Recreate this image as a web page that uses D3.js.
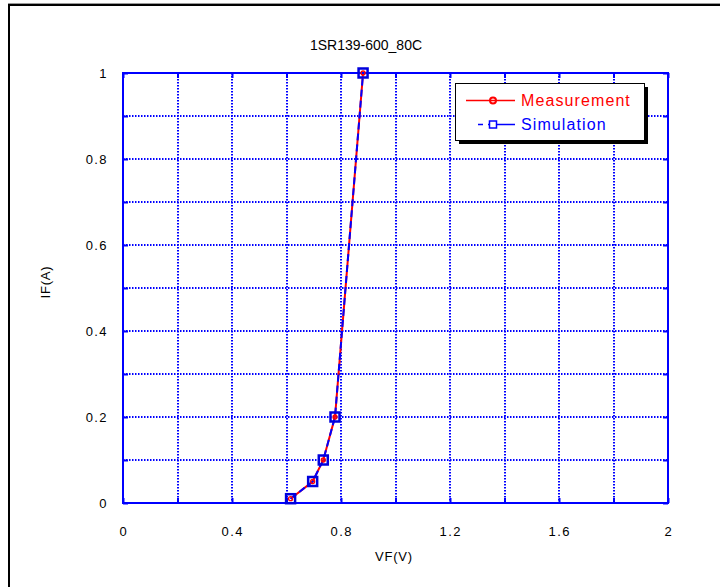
<!DOCTYPE html>
<html>
<head>
<meta charset="utf-8">
<script src="https://cdn.jsdelivr.net/npm/d3@7"></script>
<style>
html,body{margin:0;padding:0;background:#fff;}
text{font-family:"Liberation Sans",Arial,sans-serif;}
</style>
</head>
<body>
<svg id="chart" width="720" height="587"></svg>
<script>
const title = "1SR139-600_80C";
const xLabel = "VF(V)";
const yLabel = "IF(A)";
const seriesNames = ["Measurement", "Simulation"];
const measVF = [0.615, 0.696, 0.735, 0.778, 0.881];
const measIF = [0.01, 0.05, 0.1, 0.2, 1.0];
const simVF = [0.615, 0.696, 0.735, 0.778, 0.881];
const simIF = [0.01, 0.05, 0.1, 0.2, 1.0];
const xTickLabels = [0, 0.4, 0.8, 1.2, 1.6, 2];
const yTickLabels = [0, 0.2, 0.4, 0.6, 0.8, 1];
const xGrid = [0, 0.2, 0.4, 0.6, 0.8, 1.0, 1.2, 1.4, 1.6, 1.8, 2.0];
const yGrid = [0, 0.1, 0.2, 0.3, 0.4, 0.5, 0.6, 0.7, 0.8, 0.9, 1.0];

const svg = d3.select("#chart");
const L = 123, R = 668, T = 73, B = 503;
const BLUE = "#0000ff", RED = "#ff0000";
const x = d3.scaleLinear().domain([0, 2]).range([L, R]);
const y = d3.scaleLinear().domain([0, 1]).range([B, T]);
const px = v => Math.round(v);

// outer frame (top & left)
svg.append("line").attr("x1", 8).attr("x2", 720).attr("y1", 3.5).attr("y2", 3.5).attr("stroke", "#999");
svg.append("line").attr("x1", 8).attr("x2", 720).attr("y1", 5).attr("y2", 5).attr("stroke", "#000").attr("stroke-width", 2);
svg.append("line").attr("x1", 9).attr("x2", 9).attr("y1", 4).attr("y2", 587).attr("stroke", "#000").attr("stroke-width", 2);

// title
svg.append("text").attr("x", 366).attr("y", 50).attr("text-anchor", "middle")
  .attr("font-size", 14).attr("fill", "#000").text(title);

// grid (dotted)
const g = svg.append("g");
g.selectAll(".gx").data(xGrid.slice(1, -1)).join("line")
  .attr("x1", d => px(x(d))).attr("x2", d => px(x(d))).attr("y1", T).attr("y2", B)
  .attr("stroke", BLUE).attr("stroke-width", 2).attr("stroke-dasharray", "1.5,1.5");
g.selectAll(".gy").data(yGrid.slice(1, -1)).join("line")
  .attr("y1", d => px(y(d))).attr("y2", d => px(y(d))).attr("x1", L).attr("x2", R)
  .attr("stroke", BLUE).attr("stroke-width", 2).attr("stroke-dasharray", "1.5,1.5");

// axes via d3 axes (inward ticks, no labels)
const tk = 5;
const axB = svg.append("g").attr("transform", `translate(0,${B})`)
  .call(d3.axisTop(x).tickValues(xGrid).tickSize(tk).tickFormat(""));
const axT = svg.append("g").attr("transform", `translate(0,${T})`)
  .call(d3.axisBottom(x).tickValues(xGrid).tickSize(tk).tickFormat(""));
const axLf = svg.append("g").attr("transform", `translate(${L},0)`)
  .call(d3.axisRight(y).tickValues(yGrid).tickSize(tk).tickFormat(""));
const axRt = svg.append("g").attr("transform", `translate(${R},0)`)
  .call(d3.axisLeft(y).tickValues(yGrid).tickSize(tk).tickFormat(""));
[axB, axT, axLf, axRt].forEach(a => {
  a.select(".domain").remove();
  a.selectAll("line").attr("stroke", BLUE).attr("stroke-width", 2);
});
// frame
svg.append("rect").attr("x", L).attr("y", T).attr("width", R - L).attr("height", B - T)
  .attr("fill", "none").attr("stroke", BLUE).attr("stroke-width", 2);

// tick labels
svg.selectAll(".xl").data(xTickLabels).join("text")
  .attr("x", d => x(d) + 0.7).attr("y", 536).attr("text-anchor", "middle")
  .attr("font-size", 13).attr("letter-spacing", 1.4).attr("fill", "#000").text(d => d);
svg.selectAll(".yl").data(yTickLabels).join("text")
  .attr("x", 108).attr("y", d => y(d) + 5).attr("text-anchor", "end")
  .attr("font-size", 13).attr("letter-spacing", 1.4).attr("fill", "#000").text(d => d);

// axis labels
svg.append("text").attr("x", 394).attr("y", 561).attr("text-anchor", "middle")
  .attr("font-size", 13).attr("letter-spacing", 0.8).attr("fill", "#000").text(xLabel);
svg.append("text").attr("transform", `translate(50,282) rotate(-90)`).attr("text-anchor", "middle")
  .attr("font-size", 13).attr("letter-spacing", 0.8).attr("fill", "#000").text(yLabel);

// data
const meas = measVF.map((v, i) => [v, measIF[i]]);
const sim = simVF.map((v, i) => [v, simIF[i]]);
const line = d3.line().x(d => x(d[0])).y(d => y(d[1]));

svg.append("path").datum(meas).attr("d", line).attr("fill", "none")
  .attr("stroke", RED).attr("stroke-width", 2);
svg.append("path").datum(sim).attr("d", line).attr("fill", "none")
  .attr("stroke", BLUE).attr("stroke-width", 2).attr("stroke-dasharray", "7,4");

svg.selectAll(".sq").data(sim).join("rect")
  .attr("x", d => x(d[0]) - 4.5).attr("y", d => y(d[1]) - 4.5)
  .attr("width", 9).attr("height", 9).attr("fill", "none")
  .attr("stroke", "#0000dd").attr("stroke-width", 2.5);
svg.selectAll(".ci").data(meas).join("circle")
  .attr("cx", d => x(d[0])).attr("cy", d => y(d[1])).attr("r", 2)
  .attr("fill", "none").attr("stroke", RED).attr("stroke-width", 1.3);

// legend
const lg = svg.append("g");
lg.append("rect").attr("x", 459).attr("y", 87).attr("width", 189).attr("height", 57).attr("fill", "#000");
lg.append("rect").attr("x", 455.5).attr("y", 83.5).attr("width", 189).attr("height", 57)
  .attr("fill", "#fff").attr("stroke", "#000").attr("stroke-width", 1);
// measurement entry
lg.append("line").attr("x1", 466).attr("x2", 515).attr("y1", 100.5).attr("y2", 100.5)
  .attr("stroke", RED).attr("stroke-width", 1.5);
lg.append("circle").attr("cx", 493).attr("cy", 100.5).attr("r", 3)
  .attr("fill", "none").attr("stroke", RED).attr("stroke-width", 2);
lg.append("text").attr("x", 521).attr("y", 106).attr("font-size", 16).attr("letter-spacing", 1.1)
  .attr("fill", RED).text(seriesNames[0]);
// simulation entry
lg.append("line").attr("x1", 478).attr("x2", 515).attr("y1", 124.5).attr("y2", 124.5)
  .attr("stroke", BLUE).attr("stroke-width", 1.5).attr("stroke-dasharray", "5,5,30");
lg.append("rect").attr("x", 489.5).attr("y", 121).attr("width", 7).attr("height", 7)
  .attr("fill", "#fff").attr("stroke", BLUE).attr("stroke-width", 1.5);
lg.append("text").attr("x", 521).attr("y", 130).attr("font-size", 16).attr("letter-spacing", 1.1)
  .attr("fill", BLUE).text(seriesNames[1]);
</script>
</body>
</html>
